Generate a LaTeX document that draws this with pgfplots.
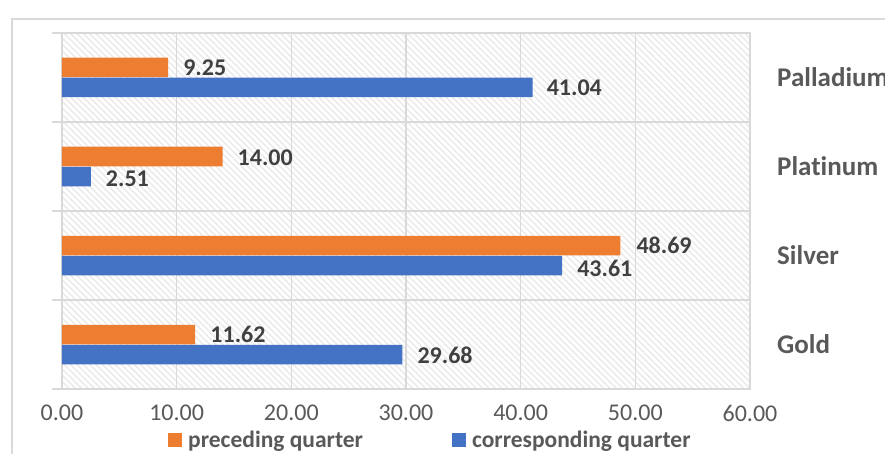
\documentclass[border=0pt]{standalone}
\usepackage{pgfplots}
\pgfplotsset{compat=1.18}
\usepackage{pgfplotstable}
\usepackage{fontspec}
\setmainfont[Ligatures={NoCommon}]{Carlito}
\usetikzlibrary{patterns.meta}
\definecolor{orng}{HTML}{ED7D31}
\definecolor{blu}{HTML}{4472C4}
\definecolor{gridgray}{HTML}{D9D9D9}
\definecolor{tickgray}{HTML}{595959}
\definecolor{labgray}{HTML}{404040}

\pgfplotstableread{
y x dx dy
0 11.62 15 0
1 48.69 16 0
2 14.00 15 -1
3 9.25 15 0
}\prec
\pgfplotstableread{
y x dx dy
0 29.68 15 -1
1 43.61 15 -3
2 2.51 15 -2
3 41.04 14 0
}\corr

\begin{document}
\begin{tikzpicture}
\useasboundingbox (-62pt,-64pt) rectangle (823pt,389pt);
\clip (-62pt,-64pt) rectangle (823pt,389pt);
\draw[gridgray, line width=1.2pt] (-50pt,-80pt) -- (-50pt,370pt) -- (840pt,370pt);
\begin{axis}[
  scale only axis, width=688pt, height=356pt,
  xbar, bar width=19.5pt,
  xmin=0, xmax=60, ymin=-0.5, ymax=3.5,
  axis background/.style={pattern={Lines[angle=-45,distance=4.5pt,line width=1.6pt]}, pattern color=gray!16},
  axis line style={gridgray, line width=1.2pt},
  xtick={0,10,...,60},
  xmajorgrids,
  major grid style={gridgray, line width=1.2pt},
  minor grid style={gridgray, line width=1.2pt},
  xtick style={draw=none},
  xticklabel style={font=\fontsize{24}{28}\selectfont, text=tickgray, inner sep=0pt, anchor=north, yshift=-16pt},
  ytick={0,1,2,3},
  yticklabels={Gold,Silver,Platinum,Palladium},
  ytick pos=left,
  yticklabel pos=right,
  major y tick style={draw=none},
  minor ytick={-0.5,0.5,1.5,2.5,3.5},
  yminorgrids,
  minor y tick style={draw=gridgray, line width=1.2pt},
  tick align=outside,
  major tick length=0pt,
  minor tick length=10pt,
  yticklabel style={anchor=west, inner sep=0pt, xshift=27pt, font=\bfseries\fontsize{27}{30}\selectfont, text=tickgray},
  legend style={draw=none, fill=none, inner sep=0pt, at={(0.1541,-0.143)}, anchor=west,
    font=\bfseries\fontsize{23.5}{26}\selectfont, text=tickgray,
    nodes={inner sep=0pt, anchor=west},
    /tikz/every odd column/.append style={column sep=6pt},
    /tikz/every even column/.append style={column sep=89pt}},
  legend columns=2,
  legend image code/.code={\fill[#1] (0pt,-7pt) rectangle (14pt,7pt);},
  /pgf/number format/fixed,
  /pgf/number format/fixed zerofill,
  /pgf/number format/precision=2,
  /pgf/number format/assume math mode=true,
]
\addplot[fill=orng, draw=none, bar shift=10pt, point meta=x,
  visualization depends on={\thisrow{dx}\as\dx},
  visualization depends on={\thisrow{dy}\as\dy},
  nodes near coords,
  nodes near coords style={anchor=west, inner sep=0pt, xshift=\dx pt, yshift=\dy pt, font=\bfseries\fontsize{24}{28}\selectfont, text=labgray}]
  table[x=x,y=y] {\prec};
\addlegendentry{preceding quarter}
\addplot[fill=blu, draw=none, bar shift=-10pt, point meta=x,
  visualization depends on={\thisrow{dx}\as\dx},
  visualization depends on={\thisrow{dy}\as\dy},
  nodes near coords,
  nodes near coords style={anchor=west, inner sep=0pt, xshift=\dx pt, yshift=\dy pt, font=\bfseries\fontsize{24}{28}\selectfont, text=labgray}]
  table[x=x,y=y] {\corr};
\addlegendentry{corresponding quarter}
\end{axis}
\end{tikzpicture}
\end{document}
